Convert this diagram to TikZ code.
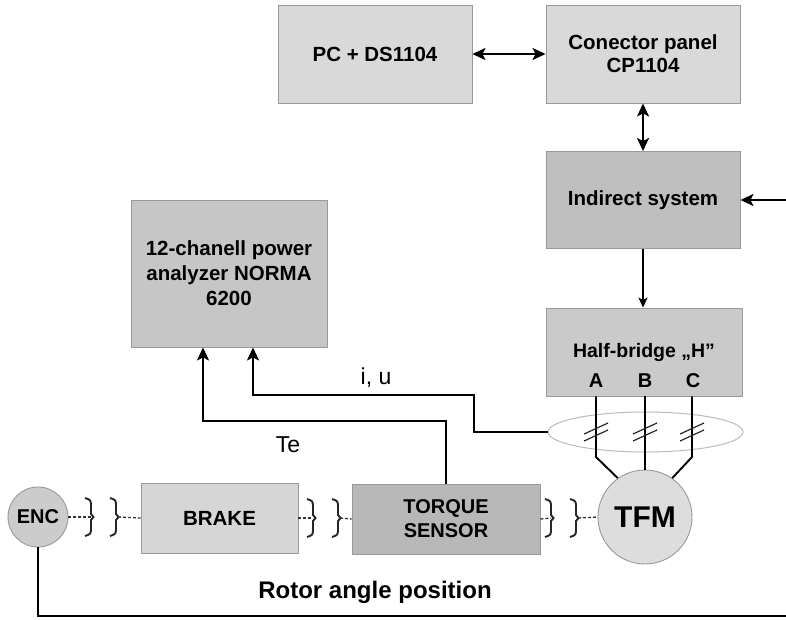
\documentclass[tikz,border=0pt]{standalone}
\usepackage{fontspec}
\setmainfont{Liberation Sans}
\usetikzlibrary{arrows.meta,shapes.geometric}
\definecolor{edgegray}{HTML}{999999}
\definecolor{lightA}{HTML}{D9D9D9}
\definecolor{midA}{HTML}{BFBFBF}
\definecolor{hbfill}{HTML}{CACACA}
\definecolor{normafill}{HTML}{C6C6C6}
\definecolor{brakefill}{HTML}{D6D6D6}
\definecolor{torquefill}{HTML}{B8B8B8}
\definecolor{encfill}{HTML}{CCCCCC}
\definecolor{tfmfill}{HTML}{DDDDDD}
\definecolor{ellgray}{HTML}{BBBBBB}
\begin{document}
\begin{tikzpicture}[x=1pt,y=-1pt,
  box/.style={draw=edgegray, line width=0.9pt, inner sep=0pt, align=center,
    font=\bfseries\fontsize{20.5}{23}\selectfont},
  disc/.style={circle, draw=edgegray, line width=0.9pt, inner sep=0pt,
    font=\bfseries\fontsize{20}{24}\selectfont},
  conn/.style={line width=1.9pt, black},
  arr/.style={conn, -{Stealth[length=13pt,width=12pt,inset=3pt]}},
  sarr/.style={conn, -{Stealth[length=10pt,width=9pt,inset=2.5pt]}},
  darr/.style={conn, {Stealth[length=13pt,width=12pt,inset=3pt]}-{Stealth[length=13pt,width=12pt,inset=3pt]}},
  shaft/.style={line width=1.3pt, black!80, dash pattern=on 3pt off 2pt},
  lbl/.style={font=\fontsize{23}{27}\selectfont, inner sep=0pt},
  hash/.style={line width=1.2pt, black!85},
  coup/.pic={\draw[line width=1.9pt, black!85]
     (-6,-19) .. controls (0,-17) .. (0,-10) -- (0,-3) -- (2.5,0) -- (0,3)
     -- (0,10) .. controls (0,17) .. (-6,19);}
]
\useasboundingbox (0,0) rectangle (786,619);
\fill[white] (0,0) rectangle (786,619);

% boxes
\node[box, fill=lightA, minimum width=194pt, minimum height=98pt] (pc) at (375,54) {PC + DS1104};
\node[box, fill=lightA, minimum width=194pt, minimum height=98pt] (cp) at (643,54) {Conector panel\\CP1104};
\node[box, fill=midA, minimum width=194pt, minimum height=97pt] (ind) at (643,200) {Indirect system};
\node[box, fill=hbfill, minimum width=196pt, minimum height=88pt] (hb) at (644,352) {};
\node[font=\bfseries\fontsize{19.5}{23}\selectfont, inner sep=0pt] (hbt) at (644,352) {Half-bridge „H”};
\node[font=\bfseries\fontsize{20}{23}\selectfont, inner sep=0pt] (pA) at (596,381) {A};
\node[font=\bfseries\fontsize{20}{23}\selectfont, inner sep=0pt] (pB) at (645,381) {B};
\node[font=\bfseries\fontsize{20}{23}\selectfont, inner sep=0pt] (pC) at (693,381) {C};
\node[box, fill=normafill, minimum width=196pt, minimum height=147pt,
      font=\bfseries\fontsize{20.5}{25}\selectfont] (norma) at (229,273.5) {12-chanell power\\analyzer NORMA\\6200};
\node[box, fill=brakefill, minimum width=157pt, minimum height=70pt] (brake) at (219.5,518) {BRAKE};
\node[box, fill=torquefill, minimum width=188pt, minimum height=70pt,
      font=\bfseries\fontsize{20}{24}\selectfont] (torque) at (446,519) {TORQUE\\SENSOR};
\node[disc, fill=encfill, minimum size=60pt] (enc) at (38,517) {ENC};
\node[disc, fill=tfmfill, minimum size=94pt, font=\bfseries\fontsize{30}{34}\selectfont] (tfm) at (645,517) {TFM};

% cable bundle
\node[ellipse, draw=ellgray, line width=1pt, minimum width=195pt, minimum height=40pt, inner sep=0pt] (bundle) at (645.5,432) {};

% control chain
\draw[darr] (pc.east) -- (cp.west);
\draw[darr] (cp.south) -- (ind.north);
\draw[sarr] (ind.south) -- (ind.south |- hb.north);
\coordinate (rin) at (786,200);
\draw[arr] (rin) -- (ind.east);

% phases to the motor
\coordinate (kA) at (596,457);
\coordinate (kC) at (692,457);
\draw[conn] (hb.south -| kA) -- (kA) -- (tfm.125);
\draw[conn] (hb.south -| tfm.north) -- (tfm.north);
\draw[conn] (hb.south -| kC) -- (kC) -- (tfm.55);
\foreach \hx in {596,645,692}{
  \draw[hash] (\hx-12,434) -- (\hx+12,423);
  \draw[hash] (\hx-12,441) -- (\hx+12,430);
}

% measurements
\draw[arr] (bundle.west) -| (474,395) -| ([xshift=24pt]norma.south);
\draw[arr] (torque.north) |- (203,421) -- ([xshift=-26pt]norma.south);
\node[lbl] (iu) at (376,378) {i, u};
\node[lbl] (te) at (288,445) {Te};

% shaft line with couplings
\pic at (91,517) {coup};
\pic at (116,517) {coup};
\pic at (313,518) {coup};
\pic at (338,518) {coup};
\pic at (551,518) {coup};
\pic at (576,518) {coup};
\coordinate (s1) at (91,517);
\coordinate (s2) at (118,517);
\coordinate (s3) at (313,518);
\coordinate (s4) at (340,518);
\coordinate (s5) at (551,518);
\coordinate (s6) at (578,518);
\draw[shaft] (enc.east) -- (s1);
\draw[shaft] (s2) -- (brake.west);
\draw[shaft] (brake.east) -- (s3);
\draw[shaft] (s4) -- (torque.west);
\draw[shaft] (torque.east) -- (s5);
\draw[shaft] (s6) -- (tfm.west);

% rotor position feedback
\node[font=\bfseries\fontsize{24}{28}\selectfont, inner sep=0pt] (rot) at (375,592) {Rotor angle position};
\coordinate (rend) at (786,616);
\draw[conn] (enc.south) |- (rend);
\end{tikzpicture}
\end{document}
